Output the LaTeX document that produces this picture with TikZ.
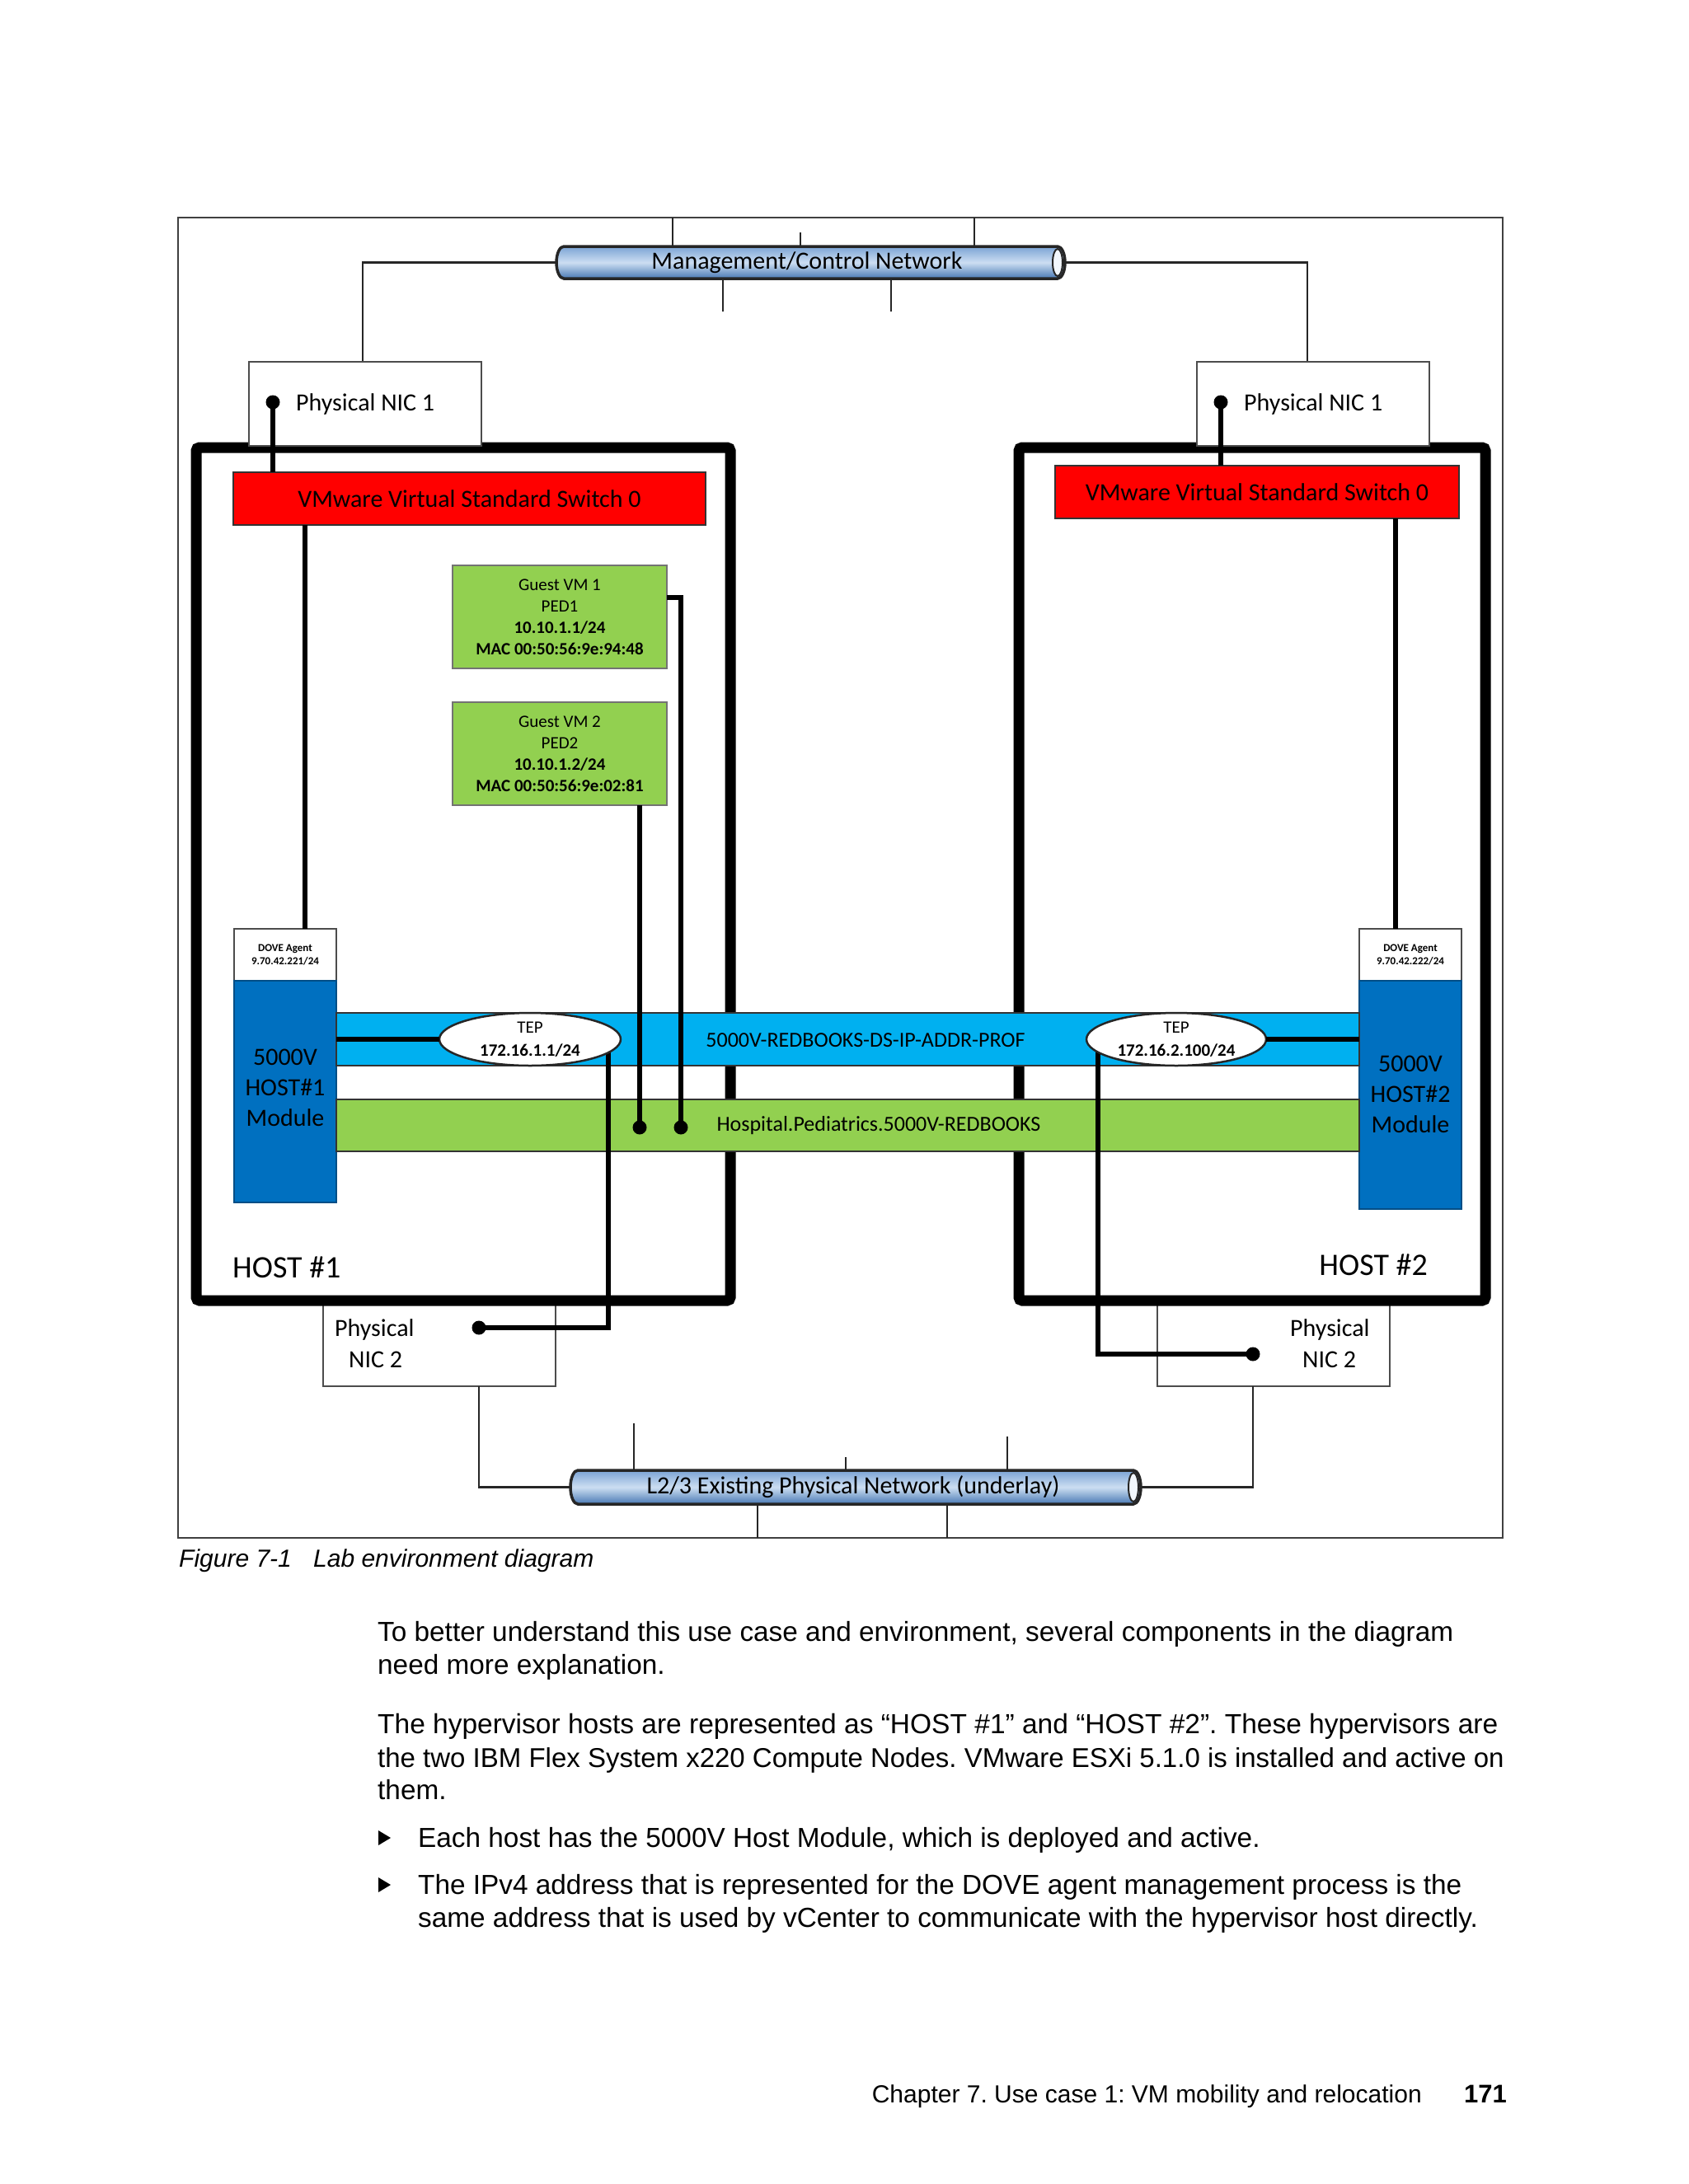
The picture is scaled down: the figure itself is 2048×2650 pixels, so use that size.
\documentclass[tikz,border=0pt]{standalone}
\usepackage{fontspec}
\setmainfont{Liberation Sans}
\newfontfamily\carl{Carlito}
\usetikzlibrary{shapes.geometric}
\definecolor{vred}{HTML}{FF0000}
\definecolor{vmgreen}{HTML}{92D050}
\definecolor{bandblue}{HTML}{00B0F0}
\definecolor{modblue}{HTML}{0070C0}
\definecolor{pipetop}{HTML}{7AA3D4}
\definecolor{pipemid}{HTML}{CCDEF2}
\definecolor{pipebot}{HTML}{4878B4}
\frenchspacing
\newcommand\pipeshape[4]{%
  \pgfmathsetmacro\ph{(#4-#3)/2}%
  \path[top color=pipetop, bottom color=pipebot, middle color=pipemid, draw=black!85, line width=3.5pt]
    (#1+9,#3) -- (#2,#3) arc[start angle=-90,end angle=90,x radius=9,y radius=\ph]
    -- (#1+9,#4) arc[start angle=90,end angle=270,x radius=9,y radius=\ph] -- cycle;
  \filldraw[fill=white!75!pipemid, draw=black!85, line width=2pt] (#2,#3+\ph) ellipse[x radius=6, y radius=\ph-3];
}
\tikzset{
  frame/.style={draw=black!75, line width=2pt},
  thinln/.style={draw=black!85, line width=2.5pt},
  conn/.style={draw=black, line width=6pt},
  hostbox/.style={draw=black, line width=13pt, rounded corners=4pt, inner sep=0pt, outer sep=0pt, anchor=north west},
  box/.style={draw=black!70, line width=1.5pt, fill=white, inner sep=0pt, outer sep=0pt, anchor=north west},
  redbox/.style={box, fill=vred, draw=black!80},
  vmbox/.style={box, fill=vmgreen, draw=black!55, align=center, font=\carl\fontsize{21}{26}\selectfont},
  modbox/.style={box, fill=modblue, draw=modblue!70!black, align=center, font=\carl\fontsize{30}{37}\selectfont},
  dovebox/.style={box, align=center, font=\carl\bfseries\fontsize{13}{16}\selectfont},
  band/.style={box, draw=black!80, line width=2pt},
  tep/.style={ellipse, draw=black!85, line width=2.5pt, fill=white, inner sep=0pt, outer sep=0pt},
  lbl/.style={font=\carl\fontsize{30}{37}\selectfont, inner sep=0pt},
  small/.style={font=\carl\fontsize{26}{30}\selectfont, inner sep=0pt},
  teptxt/.style={font=\carl\fontsize{21}{25}\selectfont, inner sep=0pt},
  dotnode/.style={circle, fill=black, minimum size=17pt, inner sep=0pt},
  body/.style={font=\fontsize{33.35}{40}\selectfont, inner sep=0pt, anchor=base west},
}
\begin{document}
\begin{tikzpicture}[x=1pt,y=-1pt]
\useasboundingbox (0,0) rectangle (2048,2650);
\fill[white] (0,0) rectangle (2048,2650);

% outer frame
\draw[frame] (216,264) rectangle (1823,1866);

% management network pipe
\coordinate (t1) at (816,264);
\coordinate (t2) at (1182,264);
\coordinate (t3) at (971,282);
\coordinate (b1) at (877,378);
\coordinate (b2) at (1081,378);
\pipeshape{675}{1283}{299}{338}
\node[lbl, minimum width=608, minimum height=39] (mgmt) at (979,318.5) {Management/Control Network};
\draw[thinln] (t1) -- (t1 |- mgmt.north);
\draw[thinln] (t2) -- (t2 |- mgmt.north);
\draw[thinln] (t3) -- (t3 |- mgmt.north);
\draw[thinln] (b1) -- (b1 |- mgmt.south);
\draw[thinln] (b2) -- (b2 |- mgmt.south);

% physical NIC 1 connections
\coordinate (mL) at (440,439);
\coordinate (mR) at (1586,439);
\draw[thinln] (mgmt.west) -| (mL);
\draw[thinln] ([xshift=6pt]mgmt.east) -| (mR);

% physical NIC 2 boxes (under host borders)
\node[box, minimum width=282, minimum height=102] (nic2L) at (392,1580) {};
\node[box, minimum width=282, minimum height=102] (nic2R) at (1404,1580) {};

% hosts
\node[hostbox, minimum width=648, minimum height=1035] (host1) at (238,543) {};
\node[hostbox, minimum width=566, minimum height=1035] (host2) at (1236,543) {};

\node[box, minimum width=282, minimum height=102] (nic1L) at (302,439) {};
\node[box, minimum width=282, minimum height=102] (nic1R) at (1452,439) {};
\node[lbl, anchor=west] (nic1Lt) at (359,490) {Physical NIC 1};
\node[lbl, anchor=west] (nic1Rt) at (1509,490) {Physical NIC 1};

% vSwitches
\node[redbox, minimum width=573, minimum height=64, font=\carl\fontsize{30}{37}\selectfont] (swL) at (283,573) {VMware Virtual Standard Switch 0};
\node[redbox, minimum width=490, minimum height=64, font=\carl\fontsize{30}{37}\selectfont] (swR) at (1280,565) {VMware Virtual Standard Switch 0};

% guest VMs
\node[vmbox, minimum width=260, minimum height=125] (vm1) at (549,686)
  {Guest VM 1\\PED1\\\textbf{10.10.1.1/24}\\\textbf{MAC 00:50:56:9e:94:48}};
\node[vmbox, minimum width=260, minimum height=125] (vm2) at (549,852)
  {Guest VM 2\\PED2\\\textbf{10.10.1.2/24}\\\textbf{MAC 00:50:56:9e:02:81}};

% DOVE agents and modules
\node[dovebox, minimum width=124, minimum height=63] (doveL) at (284,1127) {DOVE Agent\\9.70.42.221/24};
\node[dovebox, minimum width=124, minimum height=63] (doveR) at (1649,1127) {DOVE Agent\\9.70.42.222/24};
\node[modbox, minimum width=124, minimum height=269] (modL) at (284,1190) {};
\node[modbox, minimum width=124, minimum height=277] (modR) at (1649,1190) {};
\node[lbl, align=center] (modLt) at (346,1320) {5000V\\HOST\#1\\Module};
\node[lbl, align=center] (modRt) at (1711,1328) {5000V\\HOST\#2\\Module};

% bands
\node[band, fill=bandblue, minimum width=1241, minimum height=64] (ipband) at (408,1229) {};
\node[band, fill=vmgreen, minimum width=1241, minimum height=63] (vnband) at (408,1334) {};
\node[small] (ipbandt) at (1050,1262) {5000V-REDBOOKS-DS-IP-ADDR-PROF};
\node[small] (vnbandt) at (1066,1366) {Hospital.Pediatrics.5000V-REDBOOKS};

% dots
\node[dotnode] (d1L) at (331,488) {};
\node[dotnode] (d1R) at (1481,488) {};
\node[dotnode] (dV1) at (826,1368) {};
\node[dotnode] (dV2) at (776,1368) {};
\node[dotnode] (d2L) at (581,1611) {};
\node[dotnode] (d2R) at (1520,1643) {};
\coordinate (tapL) at (738,1261);
\coordinate (tapR) at (1332,1261);

% thick connectors
\draw[conn] (d1L.center) -- (d1L.center |- swL.north);
\draw[conn] (d1R.center) -- (d1R.center |- swR.north);
\draw[conn] ([xshift=87pt]swL.south west) -- ([xshift=86pt]doveL.north west);
\draw[conn] ([xshift=413pt]swR.south west) -- ([xshift=44pt]doveR.north west);
\draw[conn] ([yshift=-39pt]vm1.north east) -| (dV1.center);
\draw[conn] (dV2 |- vm2.south) -- (dV2.center);
\draw[conn] (tapL) |- (d2L.center);
\draw[conn] (tapR) |- (d2R.center);

% TEPs
\node[tep, minimum width=220, minimum height=64] (tepL) at (643,1261) {};
\node[tep, minimum width=218, minimum height=64] (tepR) at (1427,1261) {};
\node[teptxt] (tepLa) at (643,1247) {TEP};
\node[teptxt, font=\carl\bfseries\fontsize{21}{25}\selectfont] (tepLb) at (643,1275) {172.16.1.1/24};
\node[teptxt] (tepRa) at (1427,1247) {TEP};
\node[teptxt, font=\carl\bfseries\fontsize{21}{25}\selectfont] (tepRb) at (1427,1275) {172.16.2.100/24};
\draw[conn] (modL.east |- tepL) -- (tepL.west);
\draw[conn] (tepR.east) -- (modR.west |- tepR);

% host labels
\node[lbl, anchor=west, font=\carl\fontsize{38}{44}\selectfont] (h1t) at (282,1538) {HOST \#1};
\node[lbl, anchor=east, font=\carl\fontsize{38}{44}\selectfont] (h2t) at (1732,1535) {HOST \#2};

% NIC 2 texts
\node[lbl, anchor=west] (nic2La) at (406,1613) {Physical};
\node[lbl, anchor=west] (nic2Lb) at (423,1650) {NIC 2};
\node[lbl, anchor=west] (nic2Ra) at (1565,1613) {Physical};
\node[lbl, anchor=west] (nic2Rb) at (1580,1650) {NIC 2};

% underlay network
\pipeshape{692}{1375}{1784}{1825}
\node[lbl, minimum width=683, minimum height=41] (under) at (1035,1804.5) {L2/3 Existing Physical Network (underlay)};
\draw[thinln] (d2L |- nic2L.south) |- (under.west);
\draw[thinln] (d2R |- nic2R.south) |- ([xshift=6pt]under.east);
\coordinate (u1) at (769,1727);
\coordinate (u2) at (1026,1768);
\coordinate (u3) at (1222,1743);
\coordinate (u4) at (919,1866);
\coordinate (u5) at (1149,1866);
\draw[thinln] (u1) -- (u1 |- under.north);
\draw[thinln] (u2) -- (u2 |- under.north);
\draw[thinln] (u3) -- (u3 |- under.north);
\draw[thinln] (u4) -- (u4 |- under.south);
\draw[thinln] (u5) -- (u5 |- under.south);

% caption
\node[body, font=\itshape\fontsize{30}{36}\selectfont] (capA) at (217,1901) {Figure 7-1};
\node[body, font=\itshape\fontsize{30}{36}\selectfont] (capB) at (380,1901) {Lab environment diagram};

% body text
\node[body] (p1a) at (458,1991) {To better understand this use case and environment, several components in the diagram};
\node[body] (p1b) at (458,2031) {need more explanation.};
\node[body, font=\fontsize{33.5}{40}\selectfont] (p2a) at (458,2103) {The hypervisor hosts are represented as ``HOST \#1'' and ``HOST \#2''. These hypervisors are};
\node[body, font=\fontsize{33.0}{40}\selectfont] (p2b) at (458,2144) {the two IBM Flex System x220 Compute Nodes. VMware ESXi 5.1.0 is installed and active on};
\node[body] (p2c) at (458,2183) {them.};
\fill (459,2221) -- (474,2230) -- (459,2239) -- cycle;
\node[body] (b1t) at (507,2241) {Each host has the 5000V Host Module, which is deployed and active.};
\fill (459,2278) -- (474,2287) -- (459,2296) -- cycle;
\node[body] (b2a) at (507,2298) {The IPv4 address that is represented for the DOVE agent management process is the};
\node[body] (b2b) at (507,2338) {same address that is used by vCenter to communicate with the hypervisor host directly.};

% footer
\node[body, font=\fontsize{30}{36}\selectfont, anchor=base east] (foot) at (1725,2551) {Chapter 7. Use case 1: VM mobility and relocation};
\node[body, font=\bfseries\fontsize{31}{36}\selectfont, anchor=base east] (pg) at (1828,2551) {171};
\end{tikzpicture}
\end{document}
